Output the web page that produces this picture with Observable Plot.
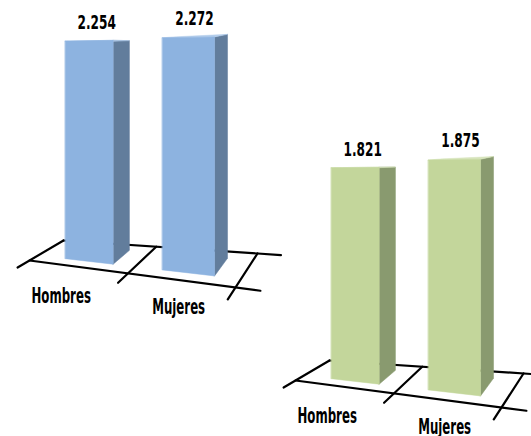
<!DOCTYPE html>
<html><head><meta charset="utf-8">
<script src="https://cdn.jsdelivr.net/npm/d3@7"></script>
<script src="https://cdn.jsdelivr.net/npm/@observablehq/plot@0.6"></script>
<style>
html,body{margin:0;padding:0;background:#fff;overflow:hidden}
#chart{position:relative;width:531px;height:436px;overflow:hidden}
#chart svg{position:absolute}
</style></head><body><div id="chart"></div>
<script>
// ---- data ----
const categories = ["Hombres", "Mujeres"];
const valuesLeft = [2254, 2272];
const valuesRight = [1821, 1875];
const yMaxLeft = 2400;
const yMaxRight = 2000;
const colorsLeft = {front: "#8DB3E0", side: "#627D9C", top: "#B3CDEB"};
const colorsRight = {front: "#C3D69B", side: "#899A6F", top: "#D7E4BC"};

// ---- layout of the pseudo-3D floor (pixels inside each svg) ----
const FL = [29, 260], FR = [235, 287], BR = [257, 253], BL = [63, 240];
const WARP = 0.088, ALPHA = 0.12, BETA = 0.115, HEIGHT_PX = 235;
const W0 = 0.25, W1 = 0.8; // depth of bars

const fmt = d3.formatLocale({decimal: ",", thousands: ".", grouping: [3], currency: ["", " €"]}).format(",d");
const FONT = "'Liberation Sans Narrow','Arial Narrow','DejaVu Sans Condensed',sans-serif";

function chart(values, yMax, colors, left, top) {
  const xb = Plot.scale({x: {type: "band", domain: categories, range: [0, 1.024], paddingInner: 0.495, paddingOuter: 0.297, round: false}});
  const lx = Plot.scale({x: {type: "point", domain: categories, range: [0.08, 0.68], padding: 0, round: false}});
  const ys = Plot.scale({y: {type: "linear", domain: [0, yMax], range: [0, HEIGHT_PX]}});

  const proj = d3.geoTransform({
    point(u, v, w) {
      if (w === undefined) w = 0.5;
      const uu = u + WARP * u * (u - 1);
      const x = (1 - uu) * (1 - w) * FL[0] + uu * (1 - w) * FR[0] + uu * w * BR[0] + (1 - uu) * w * BL[0];
      const yf = (1 - uu) * (1 - w) * FL[1] + uu * (1 - w) * FR[1] + uu * w * BR[1] + (1 - uu) * w * BL[1];
      const s = (1 + ALPHA * (uu - 0.25)) * (1 - BETA * (w - 0.25));
      this.stream.point(x, yf - ys.apply(v) * s);
    }
  });

  const rows = categories.map((c, i) => ({c, v: values[i], u1: xb.apply(c), u2: xb.apply(c) + xb.bandwidth}));
  const poly = pts => ({type: "Polygon", coordinates: [[...pts, pts[0]]]});
  const fronts = rows.map(r => poly([[r.u1, 0, W0], [r.u2, 0, W0], [r.u2, r.v, W0], [r.u1, r.v, W0]]));
  const sides = rows.map(r => poly([[r.u2, 0, W0], [r.u2, 0, W1], [r.u2, r.v, W1], [r.u2, r.v, W0]]));
  const tops = rows.map(r => poly([[r.u1, r.v, W0], [r.u2, r.v, W0], [r.u2, r.v, W1], [r.u1, r.v, W1]]));
  const n = categories.length;
  const floorLines = [
    {type: "LineString", coordinates: [[0, 0, 0], [1.11, 0, 0]]},
    {type: "LineString", coordinates: [[0, 0, 1], [1.11, 0, 1]]},
    ...d3.range(n + 1).map(i => ({type: "LineString", coordinates: [[i / n, 0, -0.35], [i / n, 0, 1]]}))
  ];
  const labels = rows.map(r => ({u: (r.u1 + r.u2) / 2, v: r.v, t: fmt(r.v)}));
  const cats = categories.map(c => ({u: lx.apply(c), v: 0, t: c}));

  const svg = Plot.plot({
    width: 290, height: 330,
    projection: proj,
    style: {background: "transparent", overflow: "visible"},
    marks: [
      Plot.geo(floorLines, {stroke: "black", strokeWidth: 2.2}),
      Plot.geo(sides, {fill: colors.side, stroke: colors.side, strokeWidth: 0.5}),
      Plot.geo(tops, {fill: colors.top, stroke: colors.top, strokeWidth: 0.5}),
      Plot.geo(fronts, {fill: colors.front, stroke: colors.front, strokeWidth: 0.5}),
      Plot.text(labels, {x: "u", y: "v", text: "t", dy: -18, fontSize: 19, fontWeight: "bold", fontFamily: FONT, fill: "black", className: "vallab"}),
      Plot.text(cats, {x: "u", y: "v", text: "t", dy: 44, fontSize: 17, fontWeight: "bold", fontFamily: FONT, fill: "black", className: "catlab"})
    ]
  });
  svg.style.left = left + "px";
  svg.style.top = top + "px";
  const stretch = (sel, sx, sy) => d3.select(svg).selectAll(sel).attr("transform", function () {
    return (this.getAttribute("transform") || "") + ` scale(${sx},${sy})`;
  });
  stretch("g.vallab text", 0.71, 1.0);
  stretch("g.catlab text", 0.77, 1.2);
  return svg;
}

const root = document.getElementById("chart");
root.appendChild(chart(valuesLeft, yMaxLeft, colorsLeft, 0, 0));
root.appendChild(chart(valuesRight, yMaxRight, colorsRight, 266, 120));
</script></body></html>
